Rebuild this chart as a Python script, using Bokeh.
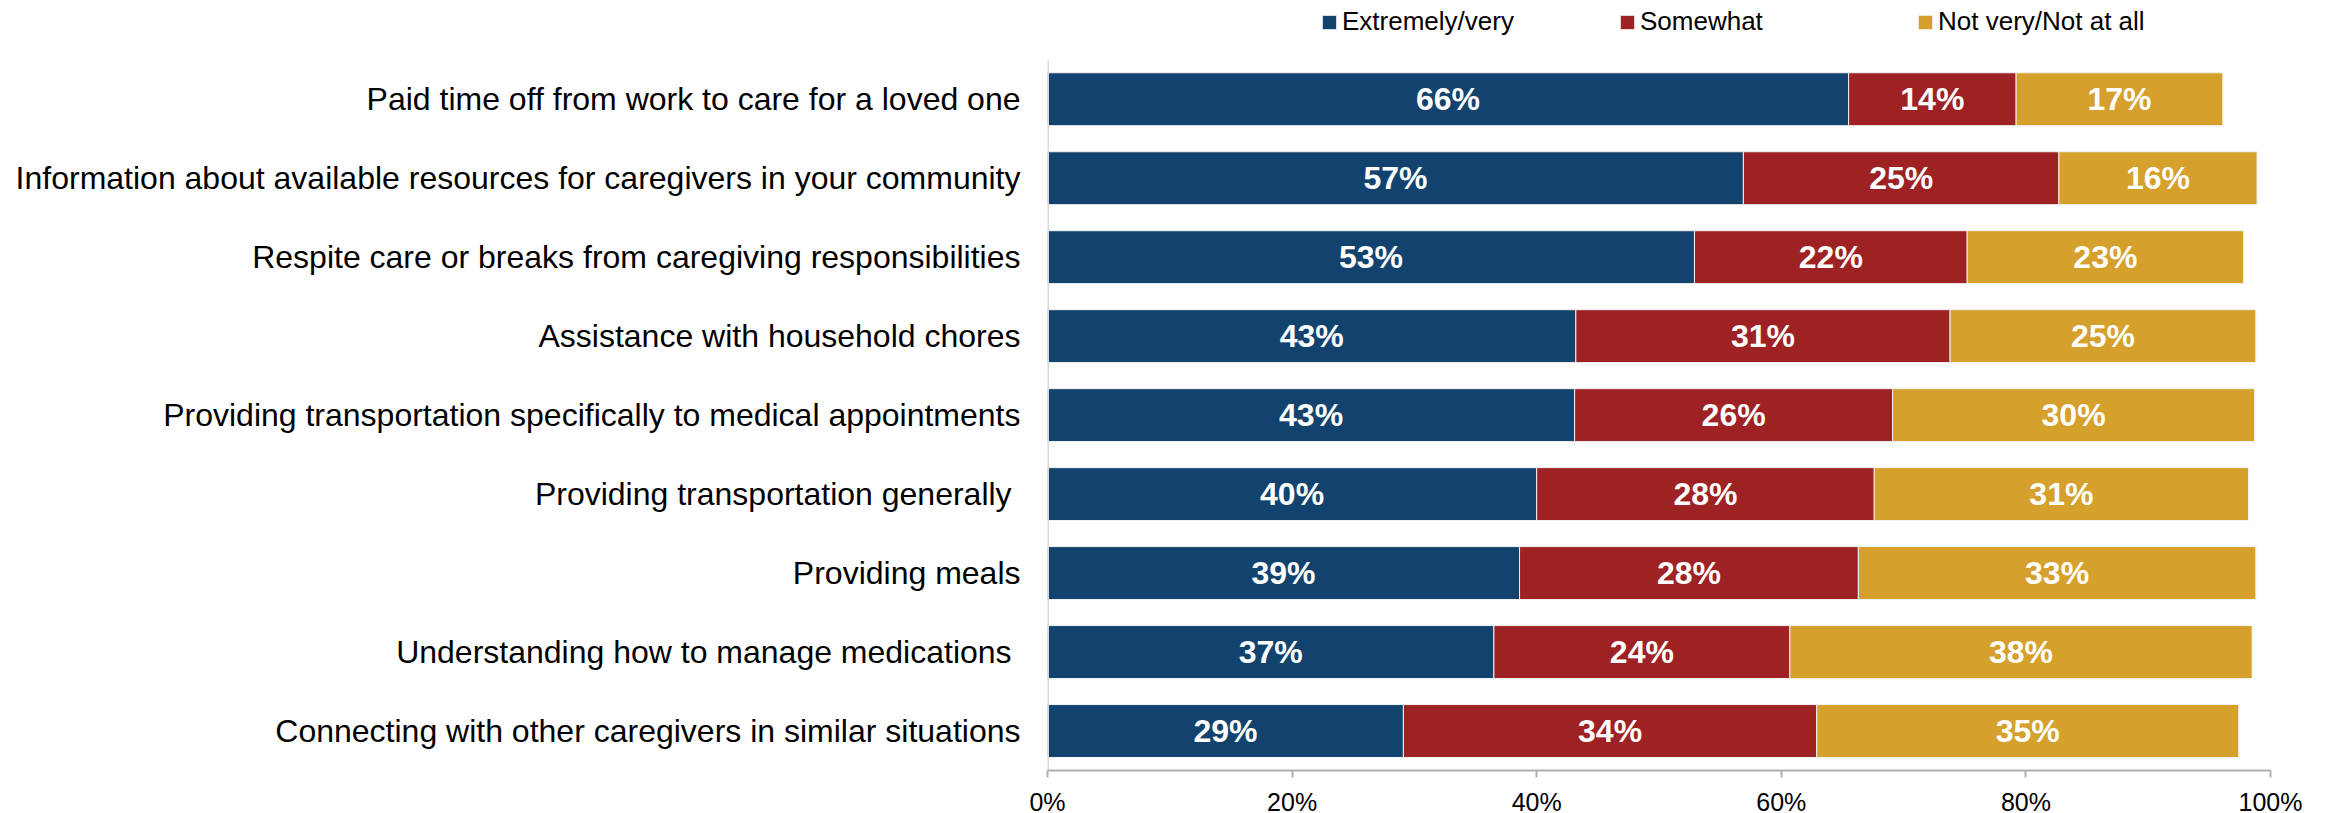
from bokeh.plotting import figure
from bokeh.models import ColumnDataSource, Range1d, FixedTicker, PrintfTickFormatter, Legend, LegendItem
from bokeh.core.properties import value
from bokeh.embed import file_html
from bokeh.resources import INLINE

categories = [
    "Paid time off from work to care for a loved one",
    "Information about available resources for caregivers in your community",
    "Respite care or breaks from caregiving responsibilities",
    "Assistance with household chores",
    "Providing transportation specifically to medical appointments",
    "Providing transportation generally ",
    "Providing meals",
    "Understanding how to manage medications ",
    "Connecting with other caregivers in similar situations",
]
series_names = ["Extremely/very", "Somewhat", "Not very/Not at all"]
extremely = [65.5, 56.9, 52.9, 43.2, 43.1, 40.0, 38.6, 36.5, 29.1]
somewhat = [13.7, 25.8, 22.3, 30.6, 26.0, 27.6, 27.7, 24.2, 33.8]
not_very = [16.9, 16.2, 22.6, 25.0, 29.6, 30.6, 32.5, 37.8, 34.5]
extremely_labels = ["66%", "57%", "53%", "43%", "43%", "40%", "39%", "37%", "29%"]
somewhat_labels = ["14%", "25%", "22%", "31%", "26%", "28%", "28%", "24%", "34%"]
not_very_labels = ["17%", "16%", "23%", "25%", "30%", "31%", "33%", "38%", "35%"]
x_ticks = [0, 20, 40, 60, 80, 100]

colors = ["#12436F", "#9E2123", "#D5A02B"]
FONT = "Liberation Sans"

n = len(categories)
pos = list(range(n))  # row index, top to bottom

src = ColumnDataSource(dict(y=pos, ext=extremely, som=somewhat, nv=not_very))

p = figure(
    y_range=Range1d(start=n - 0.5, end=-1.25),
    x_range=Range1d(0, 100),
    frame_width=1223, frame_height=770,
    min_border_left=1047, min_border_top=0, min_border_right=48, min_border_bottom=10,
    output_backend="svg", toolbar_location=None,
)

renderers = p.hbar_stack(["ext", "som", "nv"], y="y", height=0.67, source=src,
                         fill_color=colors, line_color="#F2F2F2", line_width=1)

for vals, labs, offsets in [
    (extremely, extremely_labels, [0] * n),
    (somewhat, somewhat_labels, extremely),
    (not_very, not_very_labels, [a + b for a, b in zip(extremely, somewhat)]),
]:
    mids = [o + v / 2 for o, v in zip(offsets, vals)]
    lsrc = ColumnDataSource(dict(x=mids, y=pos, t=labs))
    p.text(x="x", y="y", text="t", source=lsrc, text_color="white",
           text_font=value(FONT), text_font_style="bold", text_font_size="32px",
           text_align="center", text_baseline="middle")

# category axis line spanning the rows only
p.segment(x0=[0], y0=[-0.5], x1=[0], y1=[n - 0.5], line_color="#D9D9D9", line_width=3)

legend = Legend(items=[LegendItem(label=s, renderers=[r]) for s, r in zip(series_names, renderers)],
                orientation="horizontal", location=(273, 733),
                glyph_width=18, glyph_height=18, label_standoff=4, label_width=256, spacing=20,
                padding=0, margin=0, border_line_color=None, background_fill_alpha=0,
                label_text_font=FONT, label_text_font_size="26px", label_text_color="#000000")
p.add_layout(legend, "center")

p.xgrid.visible = False
p.ygrid.visible = False
p.outline_line_color = None

p.xaxis.ticker = FixedTicker(ticks=x_ticks)
p.xaxis.formatter = PrintfTickFormatter(format="%d%%")
p.xaxis.axis_line_color = "#B0B0B0"
p.xaxis.axis_line_width = 2
p.xaxis.major_tick_line_color = "#B0B0B0"
p.xaxis.major_tick_line_width = 2
p.xaxis.major_tick_out = 7
p.xaxis.major_tick_in = 0
p.xaxis.minor_tick_line_color = None
p.xaxis.major_label_text_font = FONT
p.xaxis.major_label_text_font_size = "25px"
p.xaxis.major_label_text_color = "#000000"
p.xaxis.major_label_standoff = 10

p.yaxis.ticker = FixedTicker(ticks=pos)
p.yaxis.major_label_overrides = {i: c for i, c in zip(pos, categories)}
p.yaxis.axis_line_color = None
p.yaxis.major_tick_line_color = None
p.yaxis.minor_tick_line_color = None
p.yaxis.major_tick_out = 0
p.yaxis.major_tick_in = 0
p.yaxis.major_label_standoff = 27
p.yaxis.major_label_text_font = FONT
p.yaxis.major_label_text_font_size = "32px"
p.yaxis.major_label_text_color = "#000000"

open("out.html", "w").write(file_html(p, INLINE))
